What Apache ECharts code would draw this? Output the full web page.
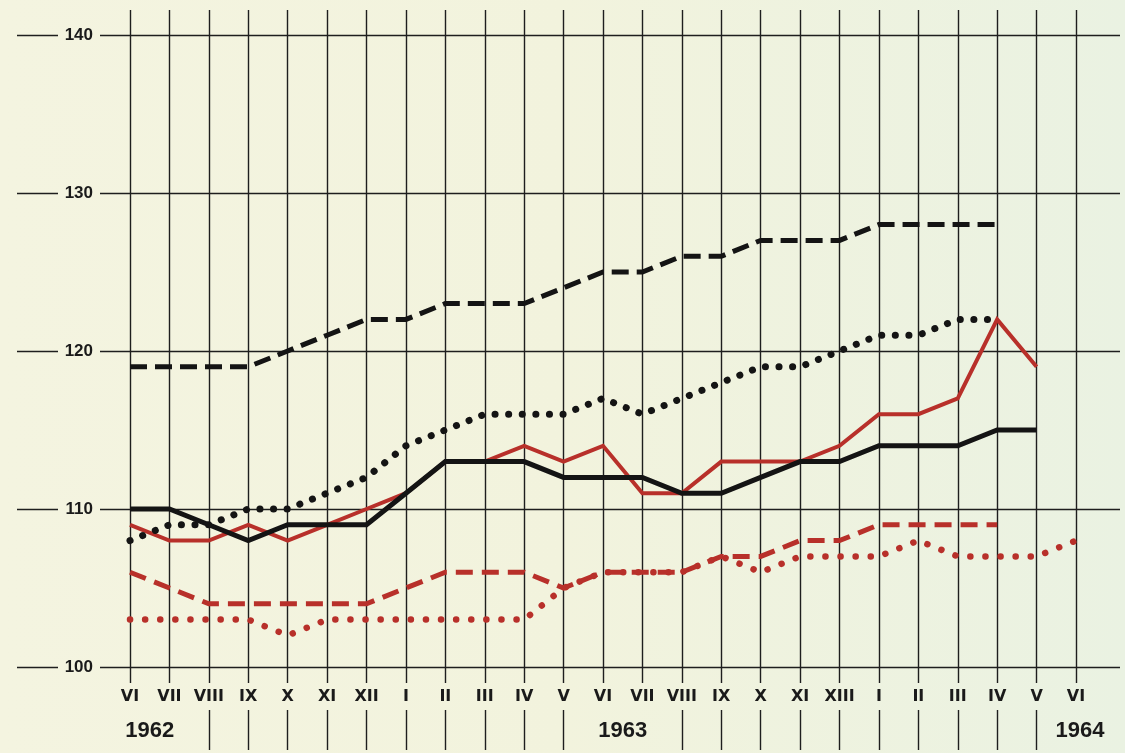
<!DOCTYPE html>
<html>
<head>
<meta charset="utf-8">
<script src="https://cdn.jsdelivr.net/npm/echarts@6/dist/echarts.min.js"></script>
<style>
  html, body { margin: 0; padding: 0; }
  body { width: 1125px; height: 753px; background: linear-gradient(90deg, #f4f4e0 0%, #f2f3dd 50%, #eaf2e2 100%); }
  #chart { width: 1125px; height: 753px; }
</style>
</head>
<body>
<div id="chart"></div>
<script>
// ---- data ----
const months = ['VI','VII','VIII','IX','X','XI','XII','I','II','III','IV','V','VI','VII','VIII','IX','X','XI','XIII','I','II','III','IV','V','VI'];
const yearLabels = ['1962', '1963', '1964'];
const yearAt = [0.5, 12.5, 24.1];        // category position of each year label
const yTicks = [100, 110, 120, 130, 140];

const blackDashed = [119,119,119,119,120,121,122,122,123,123,123,124,125,125,126,126,127,127,127,128,128,128,128,null,null];
const blackDotted = [108,109,109,110,110,111,112,114,115,116,116,116,117,116,117,118,119,119,120,121,121,122,122,null,null];
const blackSolid  = [110,110,109,108,109,109,109,111,113,113,113,112,112,112,111,111,112,113,113,114,114,114,115,115,null];
const redSolid    = [109,108,108,109,108,109,110,111,113,113,114,113,114,111,111,113,113,113,114,116,116,117,122,119,null];
const redDashed   = [106,105,104,104,104,104,104,105,106,106,106,105,106,106,106,107,107,108,108,109,109,109,109,null,null];
const redDotted   = [103,103,103,103,102,103,103,103,103,103,103,105,106,106,106,107,106,107,107,107,108,107,107,107,108];

// ---- chart ----
const RED = '#b8302a';
const BLK = '#141414';
const GRID_LINE = { color: '#1e1e1e', width: 1.4 };
const idx = months.map((m, i) => String(i));
const chart = echarts.init(document.getElementById('chart'), null, { renderer: 'canvas' });

const hiddenCat = (g) => ({ type: 'category', gridIndex: g, data: idx, boundaryGap: false, show: false });
const yMin = yTicks[0], yMax = yTicks[yTicks.length - 1];

const option = {
  backgroundColor: 'transparent',
  animation: false,
  grid: [
    { left: 130, right: 49, top: 35, bottom: 86 },   // 0 data
    { left: 130, right: 49, top: 10, bottom: 70 },   // 1 vertical lines + month labels
    { left: 130, right: 49, top: 710, bottom: 3 },   // 2 lower tick segments
    { left: 100, right: 5, top: 35, bottom: 86 },    // 3 horizontal lines + y labels
    { left: 17, width: 41, top: 35, bottom: 86 }     // 4 short left segments
  ],
  xAxis: [
    hiddenCat(0),
    { type: 'category', gridIndex: 1, data: idx, boundaryGap: false,
      axisLine: { show: false }, axisTick: { show: false },
      axisLabel: { interval: 0, margin: 6, formatter: (v, i) => months[i],
        fontFamily: 'DejaVu Sans', fontWeight: 'bold', fontSize: 16, color: '#1a1a1a' },
      splitLine: { show: true, interval: 0, lineStyle: GRID_LINE } },
    { type: 'category', gridIndex: 2, data: idx, boundaryGap: false,
      axisLine: { show: false }, axisTick: { show: false }, axisLabel: { show: false },
      splitLine: { show: true, interval: (i) => ![0, 1, 12, 13, 24].includes(i), lineStyle: GRID_LINE } },
    { type: 'value', gridIndex: 3, show: false, min: 0, max: 1 },
    { type: 'value', gridIndex: 4, show: false, min: 0, max: 1 }
  ],
  yAxis: [
    { type: 'value', gridIndex: 0, min: yMin, max: yMax, show: false },
    { type: 'value', gridIndex: 1, show: false },
    { type: 'value', gridIndex: 2, show: false },
    { type: 'value', gridIndex: 3, min: yMin, max: yMax, interval: 10,
      axisLine: { show: false }, axisTick: { show: false },
      axisLabel: { margin: 7, fontFamily: 'Liberation Sans', fontWeight: 'bold', fontSize: 17, color: '#1a1a1a' },
      splitLine: { show: true, lineStyle: GRID_LINE } },
    { type: 'value', gridIndex: 4, min: yMin, max: yMax, interval: 10,
      axisLine: { show: false }, axisTick: { show: false }, axisLabel: { show: false },
      splitLine: { show: true, lineStyle: GRID_LINE } }
  ],
  series: [
    { name: 'red dotted', type: 'line', data: redDotted, symbol: 'none', z: 3,
      lineStyle: { color: RED, width: 6.5, type: [0.1, 15], cap: 'round', join: 'round' } },
    { name: 'red dashed', type: 'line', data: redDashed, symbol: 'none', z: 4,
      lineStyle: { color: RED, width: 5, type: [17, 9], cap: 'butt', join: 'miter' } },
    { name: 'red solid', type: 'line', data: redSolid, symbol: 'none', z: 5,
      lineStyle: { color: RED, width: 4, join: 'miter' } },
    { name: 'black dotted', type: 'line', data: blackDotted, symbol: 'none', z: 6,
      lineStyle: { color: BLK, width: 7, type: [0.1, 13.5], cap: 'round', join: 'round' } },
    { name: 'black solid', type: 'line', data: blackSolid, symbol: 'none', z: 7,
      lineStyle: { color: BLK, width: 5, join: 'miter' } },
    { name: 'black dashed', type: 'line', data: blackDashed, symbol: 'none', z: 8,
      lineStyle: { color: BLK, width: 5, type: [17, 8], cap: 'butt', join: 'miter' } }
  ]
};
chart.setOption(option);

// year labels placed through the category axis
const graphics = yearLabels.map((t, k) => {
  const i0 = Math.floor(yearAt[k]);
  const frac = yearAt[k] - i0;
  const p0 = chart.convertToPixel({ xAxisIndex: 0 }, String(i0));
  const p1 = chart.convertToPixel({ xAxisIndex: 0 }, String(Math.min(i0 + 1, months.length - 1)));
  const step = (i0 + 1 < months.length) ? (p1 - p0) : 39.4;
  const x = p0 + frac * step;
  return { type: 'text', x: x, y: 731,
    style: { text: t, fill: '#1a1a1a', font: 'bold 22px "Liberation Sans"', align: 'center', verticalAlign: 'middle' } };
});
chart.setOption({ graphic: graphics });
</script>
</body>
</html>
